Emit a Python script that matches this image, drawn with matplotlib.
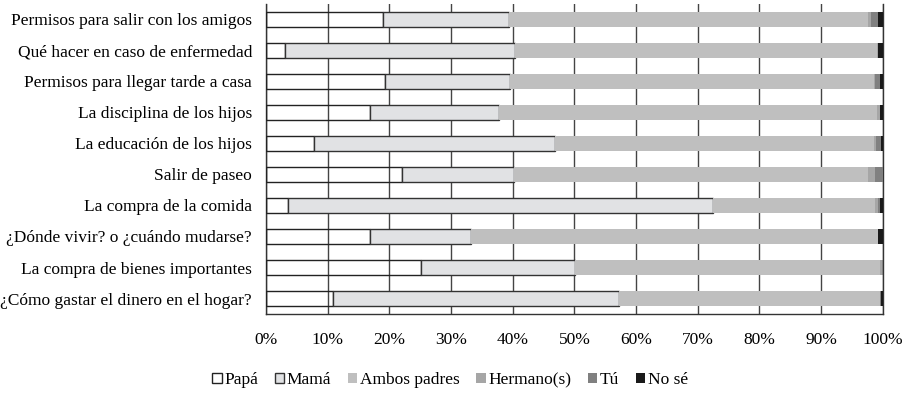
import numpy as np
import matplotlib.pyplot as plt

plt.rcParams['font.family'] = ['Liberation Serif', 'DejaVu Serif']

# Categories (top to bottom)
categories = [
    'Permisos para salir con los amigos',
    'Qué hacer en caso de enfermedad',
    'Permisos para llegar tarde a casa',
    'La disciplina de los hijos',
    'La educación de los hijos',
    'Salir de paseo',
    'La compra de la comida',
    '¿Dónde vivir? o ¿cuándo mudarse?',
    'La compra de bienes importantes',
    '¿Cómo gastar el dinero en el hogar?',
]

# Percentages
papa = [18.9, 3.1, 19.3, 16.9, 7.8, 22.0, 3.5, 16.9, 25.2, 10.8]
mama = [20.5, 37.3, 20.3, 20.9, 39.1, 18.2, 68.9, 16.4, 24.9, 46.4]
ambos = [58.2, 58.6, 58.9, 61.3, 51.7, 57.4, 26.4, 66.0, 49.5, 42.3]
hermano = [0.5, 0.2, 0.3, 0.4, 0.3, 1.2, 0.4, 0.0, 0.2, 0.0]
tu = [1.2, 0.1, 0.7, 0.0, 0.8, 1.2, 0.3, 0.0, 0.2, 0.2]
nose = [0.7, 0.7, 0.5, 0.5, 0.3, 0.0, 0.5, 0.7, 0.0, 0.3]

series = [papa, mama, ambos, hermano, tu, nose]
labels = ['Papá', 'Mamá', 'Ambos padres', 'Hermano(s)', 'Tú', 'No sé']
colors = ['none', '#e1e2e4', '#bfbfbf', '#a6a6a6', '#808080', '#1a1a1a']
edges = ['#222222', '#333333', 'none', 'none', 'none', 'none']

fig = plt.figure(figsize=(9.11, 3.94), dpi=100)
ax = fig.add_axes([0.292, 0.203, 0.677, 0.787])

y = np.arange(len(categories))
left = np.zeros(len(categories))
for vals, lab, col, ec in zip(series, labels, colors, edges):
    vals = np.array(vals)
    lw = 1.0 if ec != 'none' else 0
    ax.barh(y, vals, left=left, height=0.5, color=col, edgecolor=ec,
            linewidth=lw, label=lab, zorder=3)
    left += vals

ax.set_xlim(0, 100)
ax.set_ylim(len(categories) - 0.5, -0.5)
ax.set_xticks(np.arange(0, 101, 10))
ax.set_xticklabels([f'{v}%' for v in range(0, 101, 10)], fontsize=12.5)
ax.set_yticks(y)
ax.set_yticklabels(categories, fontsize=12.5)
ax.tick_params(axis='both', length=0)
ax.tick_params(axis='x', pad=13)
ax.tick_params(axis='y', pad=10)

ax.grid(axis='x', color='#444444', linewidth=1.0, zorder=0)
ax.set_axisbelow(True)
ax.spines['top'].set_visible(False)
for s in ['left', 'right', 'bottom']:
    ax.spines[s].set_color('#333333')
    ax.spines[s].set_linewidth(1.0)

handles, lbls = ax.get_legend_handles_labels()
leg = fig.legend(handles, lbls, loc='center', bbox_to_anchor=(0.494, 0.035),
                 ncol=6, frameon=False, fontsize=12.5, handlelength=0.55,
                 handleheight=0.55, handletextpad=0.15, columnspacing=0.95)

fig.savefig('out.png', dpi=100)
